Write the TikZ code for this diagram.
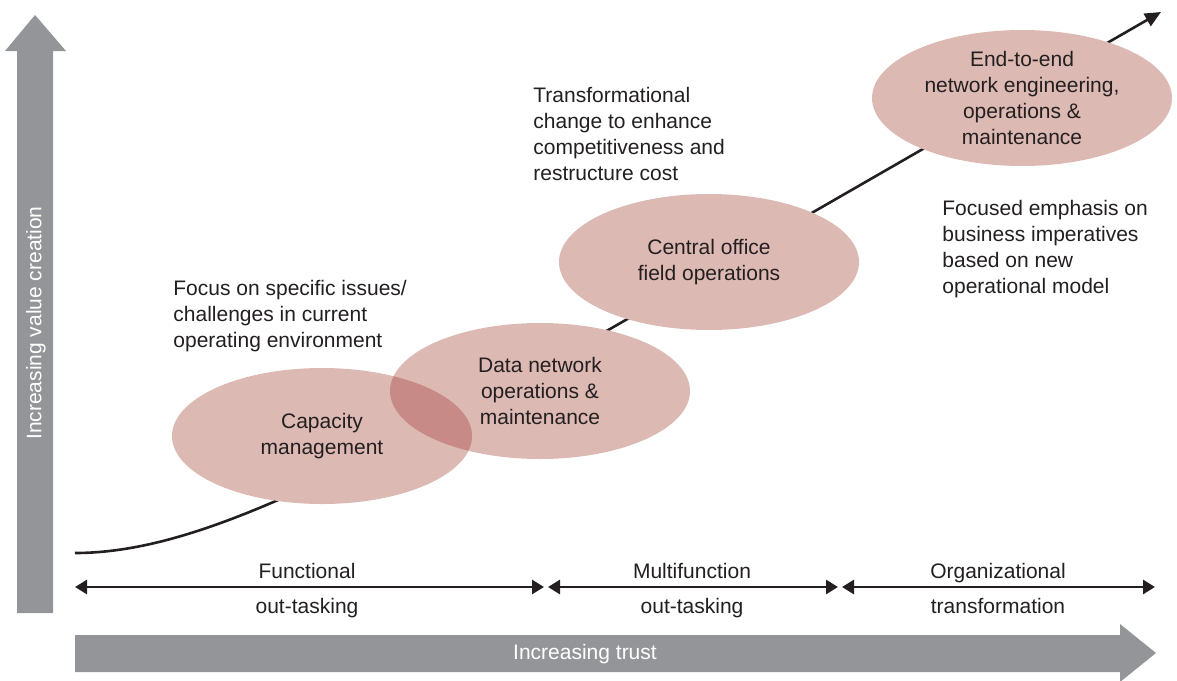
\documentclass[tikz,border=0pt]{standalone}
\usepackage{fontspec}
\setmainfont{Liberation Sans}
\usetikzlibrary{shapes.geometric,arrows.meta}

\definecolor{trustgray}{HTML}{939598}
\definecolor{rose}{HTML}{DDB9B3}
\definecolor{rosedark}{HTML}{C88A86}
\definecolor{ink}{HTML}{231F20}

\tikzset{
  txt/.style={font=\fontsize{10.5}{13}\selectfont, text=ink, inner sep=0pt},
  note/.style={txt, align=left, anchor=north west},
  stage/.style={txt, ellipse, fill=rose, align=center,
                minimum width=150pt, minimum height=68pt},
  span/.style={line width=1.4pt, draw=ink,
               {Triangle[length=6pt,width=7pt]}-{Triangle[length=6pt,width=7pt]}},
  bigarrow/.style={fill=trustgray, draw=none}
}

\begin{document}
\begin{tikzpicture}[x=0.5pt, y=-0.5pt]
		\useasboundingbox (0,0) rectangle (1177,680);

		% axes
		\fill[bigarrow] (17,613) -- (17,51) -- (5,51) -- (35,15) -- (66,51) -- (53,51) -- (53,613) -- cycle;
		\node[txt, text=white, rotate=90] (valueaxis) at (36,323) {Increasing value creation};

		\fill[bigarrow] (75,635) -- (1120,635) -- (1120,624) -- (1156,653) -- (1120,682) -- (1120,672) -- (75,672) -- cycle;
		\node[txt, text=white] (trustaxis) at (585,654) {Increasing trust};

		% growth curve
		\coordinate (curvestart) at (75,553);
		\coordinate (curvebend) at (610,329);
		\coordinate (curvetip) at (1161,12);
		\draw[line width=1.3pt, draw=ink, -{Triangle[length=8pt,width=7pt]}]
			(curvestart) .. controls (200,553) and (350,470) .. (curvebend) -- (curvetip);

		% stages
		\node[stage] (capacity) at (322,436) {Capacity\\management};
		\node[stage] (datanet) at (540,391) {Data network\\operations \&\\maintenance};
		\begin{scope}
			\clip (capacity.center) ellipse [x radius=75pt, y radius=34pt];
			\fill[rosedark] (datanet.center) ellipse [x radius=75pt, y radius=34pt];
		\end{scope}
		\node[stage] (central) at (709,262) {Central office\\field operations};
		\node[stage] (endtoend) at (1022,98) {End-to-end\\network engineering,\\operations \&\\maintenance};

		% notes
		\node[note] (focusnote) at (173,280) {Focus on specific issues/\\challenges in current\\operating environment};
		\node[note] (transnote) at (533,87) {Transformational\\change to enhance\\competitiveness and\\restructure cost};
		\node[note] (emphnote) at (942,200) {Focused emphasis on\\business imperatives\\based on new\\operational model};

		% phases
		\coordinate (funcL) at (75,587);
		\coordinate (funcR) at (544,587);
		\coordinate (multiL) at (548,587);
		\coordinate (multiR) at (838,587);
		\coordinate (orgL) at (842,587);
		\coordinate (orgR) at (1155,587);
		\draw[span] (funcL) -- (funcR);
		\draw[span] (multiL) -- (multiR);
		\draw[span] (orgL) -- (orgR);

		\node[txt, anchor=base] (functop) at (307,578) {Functional};
		\node[txt, anchor=base] (funcbot) at (307,613) {out-tasking};
		\node[txt, anchor=base] (multitop) at (692,578) {Multifunction};
		\node[txt, anchor=base] (multibot) at (692,613) {out-tasking};
		\node[txt, anchor=base] (orgtop) at (998,578) {Organizational};
		\node[txt, anchor=base] (orgbot) at (998,613) {transformation};

\end{tikzpicture}
\end{document}
